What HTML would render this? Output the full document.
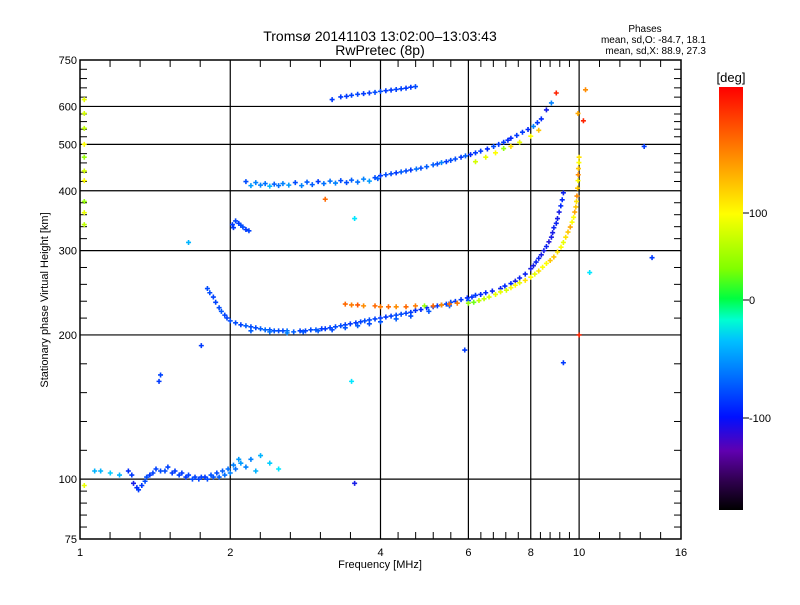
<!DOCTYPE html>
<html><head><meta charset="utf-8"><style>
body{margin:0;background:#fff;width:800px;height:600px;overflow:hidden}
svg text{font-family:"Liberation Sans",sans-serif;fill:#000}
</style></head><body>
<svg id="chart" width="800" height="600" viewBox="0 0 800 600">
<defs><linearGradient id="cb" x1="0" y1="0" x2="0" y2="1">
<stop offset="0" stop-color="#ff0000"/><stop offset="0.15" stop-color="#ff8000"/><stop offset="0.3" stop-color="#ffff00"/>
<stop offset="0.43" stop-color="#80ff00"/><stop offset="0.5" stop-color="#00ff40"/><stop offset="0.55" stop-color="#00ffd0"/>
<stop offset="0.6" stop-color="#00c0ff"/><stop offset="0.7" stop-color="#0060ff"/><stop offset="0.78" stop-color="#0010ff"/>
<stop offset="0.86" stop-color="#6000b0"/><stop offset="0.93" stop-color="#300050"/><stop offset="1" stop-color="#000000"/>
</linearGradient></defs>
<text x="380" y="41" font-size="14" text-anchor="middle">Tromsø 20141103 13:02:00–13:03:43</text>
<text x="380" y="55" font-size="14" text-anchor="middle">RwPretec (8p)</text>
<text x="645" y="32" font-size="10" text-anchor="middle">Phases</text>
<text x="706" y="43" font-size="10" text-anchor="end">mean, sd,O: -84.7, 18.1</text>
<text x="706" y="54" font-size="10" text-anchor="end">mean, sd,X:  88.9, 27.3</text>
<text x="380" y="568" font-size="11" text-anchor="middle">Frequency [MHz]</text>
<text x="48" y="300" font-size="11" text-anchor="middle" transform="rotate(-90 48 300)">Stationary phase Virtual Height [km]</text>
<rect x="719" y="87" width="24" height="423" fill="url(#cb)"/>
<text x="731" y="82" font-size="13" text-anchor="middle">[deg]</text>
<g id="cbticks"></g>
<g id="grid"></g>
<g id="marks"></g>
<rect x="80" y="60" width="601" height="479" fill="none" stroke="#000" stroke-width="1.5"/>
</svg>
<script>
const xTicks=[1,2,4,6,8,10,16];
const xGrid=[2,4,6,8,10];
const yTicks=[75,100,200,300,400,500,600,750];
const yGrid=[100,200,300,400,500,600];
const cbTicks=[100,0,-100];
const cbTickY=[213,300,418];

const oF=[1.80,1.85,1.90,1.95,2.0,2.1,2.2,2.3,2.4,2.5,2.6,2.76,2.9,3.05,3.17,3.33,3.48,3.65,3.8,4.0,4.2,4.4,4.6,4.82,5.1,5.3,5.53,5.8,5.97,6.2,6.5,6.96,7.3,7.6,8.0,8.2,8.4,8.6,8.8,8.9,9.05,9.19,9.3];
const oH=[250,240,228,220,214,210,208,206,205,204,204,204,205,206,207,209,211,213,215,217,219,221,223,226,229,231,234,237,239,242,245,250,256,263,275,284,294,306,320,335,350,372,396];
const oP=[-90,-95,-90,-95,-90,-95,-90,-80,-85,-90,-70,-95,-90,-100,-95,-90,-100,-95,-90,-100,-95,-90,-100,-110,-100,-95,-90,-100,-110,-100,-110,-115,-110,-115,-120,-115,-120,-115,-120,-115,-120,-110,-115];
const o3F=[1.82,1.87,1.92,1.97,2.05,2.15,2.25,2.35,2.45,2.55,2.68,2.83,2.97,3.1,3.25,3.4,3.57,3.72,3.9,4.1,4.3,4.5,4.7,4.95,5.2,5.42,5.65,6.1,6.35,6.7,7.1,7.45,7.8,8.1,8.3,8.5,8.7,8.85,9.0,9.12,9.25];
const o3H=[245,234,224,217,212,209,207,205,204,204,203,204,205,206,208,210,212,214,216,218,220,222,225,228,230,232,235,240,243,247,253,259,268,279,289,300,313,327,342,361,383];
const o3P=[-90,-95,-85,-95,-90,-80,-90,-75,-85,-90,-80,-95,-85,-100,-90,-95,-100,-90,-95,-100,-90,-95,-105,-110,-100,-95,-100,-105,-110,-115,-110,-120,-115,-120,-115,-120,-125,-120,-115,-120,-110];
const o2F=[2.2,2.4,2.6,2.8,3.0,3.2,3.4,3.6,3.8,4.0,4.3,4.6,5.0,5.5,6.0];
const o2H=[204,203,202,203,204,205,207,209,211,213,216,219,224,230,236];
const o2P=[-80,-70,-60,-85,-80,-90,-85,-80,-90,-85,-80,-90,-85,-80,-90];
const orF=[3.4,3.5,3.6,3.7,3.9,4.0,4.15,4.3,4.5,4.7,4.9,5.1,5.3,5.5,5.7];
const orH=[232,231,231,230,230,229,229,229,229,230,230,230,231,232,233];
const orP=[150,145,155,140,150,145,150,140,150,145,60,150,140,150,145];
const xF=[6.0,6.3,6.6,6.96,7.3,7.6,8.0,8.3,8.6,8.9,9.2,9.4,9.6,9.75,9.85,9.9,9.95,9.97,10.0];
const xH=[233,236,240,246,251,257,264,272,282,291,305,320,336,352,370,390,420,445,470];
const xP=[60,70,80,90,100,90,100,110,100,120,100,110,130,100,120,140,100,120,110];
const x2F=[6.15,6.45,6.8,7.15,7.45,7.8,8.15,8.45,8.75,9.05,9.3,9.5,9.68,9.8,9.88,9.93,9.96,9.99];
const x2H=[234,238,243,248,254,260,268,277,286,298,312,328,344,361,380,405,432,458];
const x2P=[50,70,90,80,100,110,90,100,120,110,90,120,100,130,110,120,140,100];
const uF=[2.15,2.25,2.35,2.45,2.55,2.7,2.85,3.0,3.17,3.33,3.5,3.7,3.9,4.0,4.2,4.4,4.6,4.82,5.1,5.3,5.53,5.8,6.06,6.35,6.74,7.06,7.3,7.7,8.1,8.4,8.6];
const uH=[418,416,414,413,414,416,417,418,419,420,421,423,426,430,434,438,442,446,453,458,463,470,476,484,495,505,515,530,545,565,590];
const uP=[-90,-60,-70,-80,-60,-90,-80,-100,-70,-90,-80,-60,-90,-100,-90,-80,-100,-90,-80,-60,-90,-100,-110,-100,-90,-100,-110,-100,-60,-110,-120];
const u2F=[2.2,2.3,2.4,2.5,2.62,2.78,2.92,3.08,3.25,3.42,3.6,3.8,3.95,4.1,4.3,4.5,4.72,4.95,5.2,5.42,5.65,5.92,6.2,6.55,6.9,7.2,7.5,7.9,8.25];
const u2H=[410,411,409,410,411,410,412,414,415,416,417,419,424,432,436,440,444,449,455,460,466,473,480,489,500,510,522,537,555];
const u2P=[-50,-60,-40,-70,-50,-60,-80,-70,-60,-90,-70,-50,-80,-90,-100,-90,-70,-80,-90,-100,-90,-80,-100,-110,-100,-110,-100,-110,-100];
const uyF=[6.2,6.5,6.8,7.06,7.3,7.6,8.0,8.3];
const uyH=[460,470,480,490,495,505,520,535];
const uyP=[80,90,100,60,110,90,100,120];
const tF=[3.33,3.5,3.7,3.9,4.1,4.3,4.5,4.7,3.42,3.6,3.8,4.0,4.2,4.4,4.6];
const tH=[628,633,638,642,647,651,655,660,630,636,640,645,649,653,658];
const tP=[-100,-95,-100,-90,-100,-95,-100,-90,-100,-95,-100,-90,-100,-95,-100];
const bF=[2.02,2.05,2.08,2.12,2.15,2.18,2.03,2.1];
const bH=[340,346,342,336,332,330,335,339];
const bP=[-100,-95,-100,-90,-100,-95,-100,-90];
const lF=[1.07,1.1,1.15,1.2,1.27,1.3,1.33,1.36,1.4,1.45,1.5,1.55,1.6,1.65,1.7,1.75,1.8,1.85,1.9,1.95,2.0,2.05,2.1,2.2,2.3,2.4,2.5];
const lH=[104,104,103,102,102,96,97,101,103,104,106,104,103,102,101,101,100,101,101,102,103,105,108,110,112,108,105];
const lP=[-40,-40,-30,-40,-100,-110,-100,-90,-95,-90,-95,-100,-100,-95,-95,-95,-90,-85,-80,-70,-60,-70,-50,-60,-40,-30,-20];
const l2F=[1.25,1.28,1.31,1.35,1.38,1.42,1.48,1.53,1.58,1.63,1.68,1.73,1.78,1.83,1.88,1.93,1.98,2.03,2.08,2.15,2.25];
const l2H=[104,98,95,99,102,105,104,103,102,101,100,100,101,102,103,104,105,107,110,106,104];
const l2P=[-110,-120,-100,-90,-100,-95,-90,-100,-95,-100,-90,-95,-100,-85,-90,-80,-70,-60,-50,-60,-40];
const sF=[1.02,1.02,1.02,1.02,1.02,1.02,1.02,1.02,1.02,1.02,1.75,1.45,1.44,1.65,3.2,3.5,3.55,9.3,13.5,14,10.5,10.2,10.0,3.1,5.9,3.55,9.0,8.8,1.02,9.95,10.3];
const sH=[620,580,540,500,470,440,420,380,360,340,190,165,160,312,620,160,350,175,495,290,270,560,200,384,186,98,640,610,97,580,650];
const sP=[90,80,70,100,60,80,100,60,90,70,-100,-95,-100,-40,-100,-20,-20,-100,-100,-100,-20,170,170,150,-100,-120,170,-60,90,130,140];

const X0=80,X1=681,Y0=539,Y1=60;
const fx=f=>X0+(X1-X0)*Math.log(f)/Math.log(16);
const fy=h=>Y0-(Y0-Y1)*Math.log(h/75)/Math.log(10);
const NS='http://www.w3.org/2000/svg';
function mk(tag,attrs,parent){const e=document.createElementNS(NS,tag);for(const k in attrs)e.setAttribute(k,attrs[k]);parent.appendChild(e);return e;}
const grid=document.getElementById('grid');
xGrid.forEach(v=>{const l=mk('line',{x1:fx(v),x2:fx(v),y1:Y1,y2:Y0,stroke:'#000','stroke-width':1.2},grid);

});
yGrid.forEach(v=>{const l=mk('line',{x1:X0,x2:X1,y1:fy(v),y2:fy(v),stroke:'#000','stroke-width':1.2},grid);

});
xTicks.forEach((v,i)=>{const t=mk('text',{x:fx(v),y:Y0+17,'font-size':11,'text-anchor':'middle'},grid);t.textContent=v;


if(i<xTicks.length-1){const a=fx(v),b=fx(xTicks[i+1]);for(let k=1;k<5;k++){const xx=a+(b-a)*k/5;
mk('line',{x1:xx,x2:xx,y1:Y0,y2:Y0-7,stroke:'#000'},grid);mk('line',{x1:xx,x2:xx,y1:Y1,y2:Y1+7,stroke:'#000'},grid);}}});
yTicks.forEach((v,i)=>{const t=mk('text',{x:X0-3,y:fy(v)+4,'font-size':11,'text-anchor':'end'},grid);t.textContent=v;


if(i<yTicks.length-1){const a=fy(v),b=fy(yTicks[i+1]);for(let k=1;k<5;k++){const yy=a+(b-a)*k/5;
mk('line',{x1:X0,x2:X0+7,y1:yy,y2:yy,stroke:'#000'},grid);mk('line',{x1:X1,x2:X1-7,y1:yy,y2:yy,stroke:'#000'},grid);}}});
const cbg=document.getElementById('cbticks');
cbTicks.forEach((v,i)=>{mk('line',{x1:743,x2:749,y1:cbTickY[i],y2:cbTickY[i],stroke:'#000'},cbg);
const t=mk('text',{x:749,y:cbTickY[i]+4,'font-size':11},cbg);t.textContent=v;

});
const stops=[[-180,[0,0,0]],[-150,[96,0,160]],[-110,[0,40,255]],[-60,[0,130,255]],[-20,[0,230,255]],[20,[0,255,60]],[70,[190,255,0]],[100,[255,255,0]],[140,[255,140,0]],[180,[255,0,0]]];
function col(p){for(let i=0;i<stops.length-1;i++){const [a,ca]=stops[i],[b,cb]=stops[i+1];if(p<=b){const t=Math.max(0,(p-a)/(b-a));return 'rgb('+ca.map((c,j)=>Math.round(c+(cb[j]-c)*t)).join(',')+')';}}return 'rgb(255,0,0)';}
const marks=document.getElementById('marks');
function draw(F,H,P,name){F.forEach((f,i)=>{const x=fx(f),y=fy(H[i]);
const p=mk('path',{d:`M${x-2.5},${y}h5M${x},${y-2.5}v5`,stroke:col(P[i]),'stroke-width':1.6,fill:'none'},marks);

});}
draw(oF,oH,oP,'o-trace-point');draw(o3F,o3H,o3P,'o-trace-point');draw(o2F,o2H,o2P,'o-trace-point');draw(orF,orH,orP,'orange-trace-point');
draw(xF,xH,xP,'x-trace-point');draw(x2F,x2H,x2P,'x-trace-point');draw(uF,uH,uP,'upper-trace-point');draw(u2F,u2H,u2P,'upper-trace-point');draw(uyF,uyH,uyP,'upper-x-point');
draw(tF,tH,tP,'top-trace-point');draw(bF,bH,bP,'blob-point');draw(lF,lH,lP,'low-trace-point');draw(l2F,l2H,l2P,'low-trace-point');draw(sF,sH,sP,'scatter-point');
</script>
</body></html>
